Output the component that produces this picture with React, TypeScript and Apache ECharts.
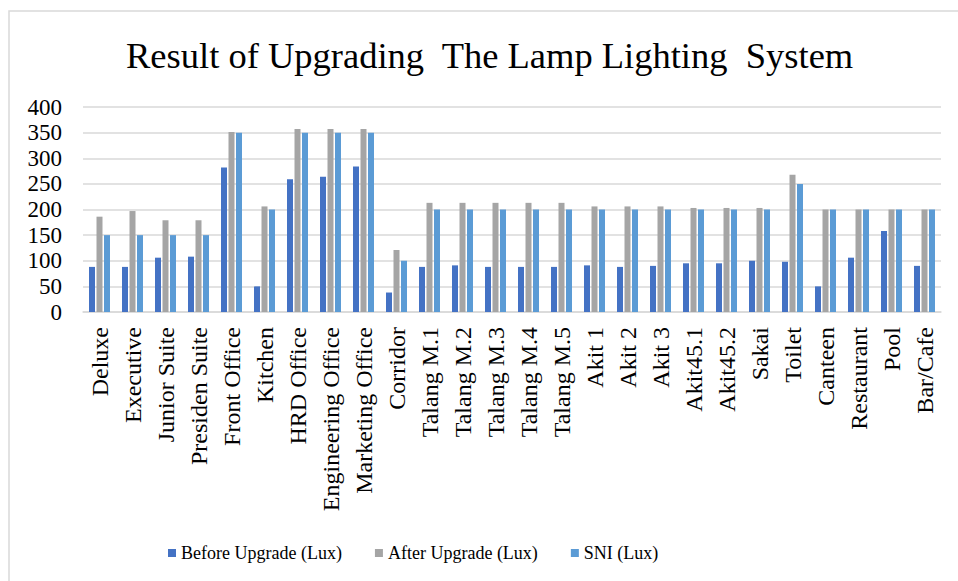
import React, { useEffect, useRef } from "react";
import * as echarts from "echarts";

const categories = [
  "Deluxe", "Executive", "Junior Suite", "Presiden Suite", "Front Office", "Kitchen",
  "HRD Office", "Engineering Office", "Marketing Office", "Corridor", "Talang M.1",
  "Talang M.2", "Talang M.3", "Talang M.4", "Talang M.5", "Akit 1", "Akit 2", "Akit 3",
  "Akit45.1", "Akit45.2", "Sakai", "Toilet", "Canteen", "Restaurant", "Pool", "Bar/Cafe",
];
const beforeUpgrade = [88, 88, 106, 108, 282, 50, 259, 264, 284, 38, 88, 91, 88, 88, 88, 91, 88, 90, 95, 95, 100, 98, 50, 106, 158, 90];
const afterUpgrade = [186, 197, 179, 179, 351, 206, 357, 357, 357, 121, 213, 213, 213, 213, 213, 206, 206, 206, 203, 203, 203, 268, 200, 200, 200, 200];
const sni = [150, 150, 150, 150, 350, 200, 350, 350, 350, 100, 200, 200, 200, 200, 200, 200, 200, 200, 200, 200, 200, 250, 200, 200, 200, 200];
const yTicks = { min: 0, max: 400, interval: 50 };
const seriesNames = ["Before Upgrade (Lux)", "After Upgrade (Lux)", "SNI (Lux)"];
const colors = ["#4472C4", "#A5A5A5", "#5B9BD5"];

const FONT = '"Liberation Serif", "Times New Roman", serif';

export default function App() {
  const ref = useRef<HTMLDivElement>(null);
  useEffect(() => {
    if (!ref.current) return;
    document.body.style.margin = "0";
    const chart = echarts.init(ref.current, undefined, { renderer: "svg" });
    const data = [beforeUpgrade, afterUpgrade, sni];
    chart.setOption({
      animation: false,
      backgroundColor: "#ffffff",
      color: colors,
      title: {
        text: "Result of Upgrading  The Lamp Lighting  System",
        left: 121,
        top: 32,
        textStyle: { fontFamily: FONT, fontSize: 36.5, fontWeight: "normal", color: "#000" },
      },
      graphic: [
        {
          type: "rect",
          shape: { x: 9, y: 11, width: 960, height: 600 },
          style: { fill: "none", stroke: "#d9d9d9", lineWidth: 1.5 },
          silent: true,
        },
      ],
      legend: {
        left: 163,
        top: 539,
        itemWidth: 8,
        itemHeight: 8,
        itemGap: 33,
        icon: "rect",
        data: seriesNames,
        textStyle: { fontFamily: FONT, fontSize: 18, color: "#000" },
      },
      grid: { left: 83, right: 17, top: 107, bottom: 269, containLabel: false },
      xAxis: {
        type: "category",
        data: categories,
        axisLine: { show: true, lineStyle: { color: "#d9d9d9", width: 1.5 } },
        axisTick: { show: false },
        axisLabel: {
          interval: 0,
          rotate: 90,
          margin: 15,
          fontFamily: FONT,
          fontSize: 24,
          color: "#000",
        },
      },
      yAxis: {
        type: "value",
        min: yTicks.min,
        max: yTicks.max,
        interval: yTicks.interval,
        axisLine: { show: false },
        axisTick: { show: false },
        axisLabel: { fontFamily: FONT, fontSize: 23, color: "#000", margin: 21 },
        splitLine: { lineStyle: { color: "#d9d9d9", width: 1.5 } },
      },
      series: seriesNames.map((name, i) => ({
        name,
        type: "bar",
        data: data[i],
        barWidth: 6,
        barGap: "25%",
        itemStyle: { color: colors[i] },
      })),
    });
    return () => chart.dispose();
  }, []);
  return <div ref={ref} style={{ width: 958, height: 581 }} />;
}
